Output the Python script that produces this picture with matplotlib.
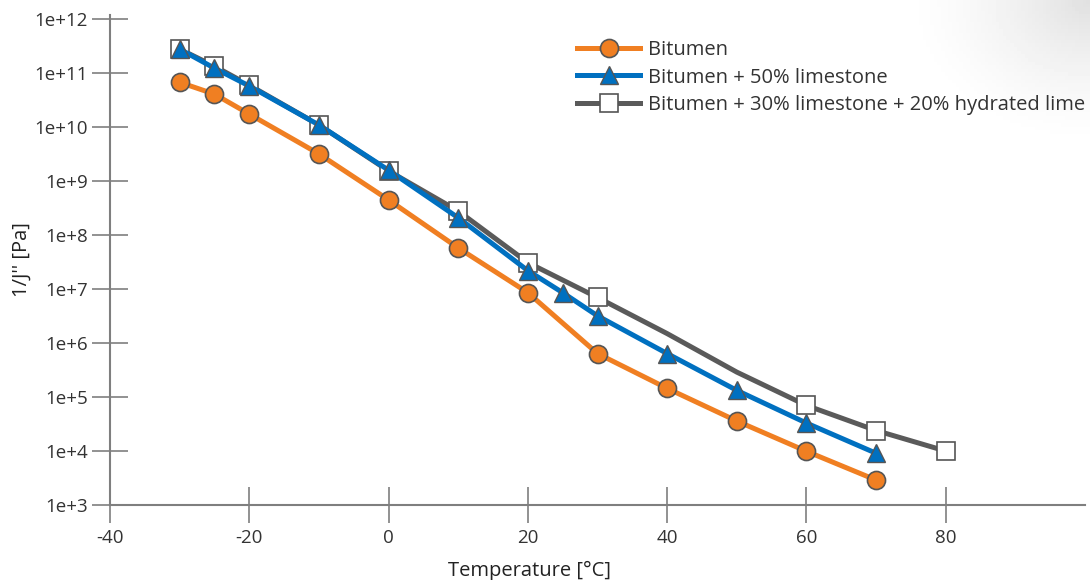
import numpy as np
import matplotlib.pyplot as plt
from matplotlib.ticker import FixedLocator, FuncFormatter

plt.rcParams['font.family'] = ['Open Sans', 'DejaVu Sans']
plt.rcParams['axes.unicode_minus'] = False

# data
temp_bit = [-30, -25, -20, -10, 0, 10, 20, 30, 40, 50, 60, 70]
bitumen = [6.8e10, 4.1e10, 1.75e10, 3.2e9, 4.5e8, 5.8e7, 8.6e6, 6.4e5, 1.45e5, 3.6e4, 9.9e3, 2.9e3]

temp_ls = [-30, -25, -20, -10, 0, 10, 20, 25, 30, 40, 50, 60, 70]
limestone = [2.8e11, 1.24e11, 5.8e10, 1.1e10, 1.6e9, 2.1e8, 2.2e7, 8.6e6, 3.2e6, 6.4e5, 1.33e5, 3.3e4, 9.1e3]

temp_hl = [-30, -25, -20, -10, 0, 10, 20, 30, 40, 50, 60, 70, 80]
hydrated = [2.8e11, 1.35e11, 6.0e10, 1.1e10, 1.55e9, 2.8e8, 3.1e7, 7.0e6, 1.5e6, 2.9e5, 7.0e4, 2.4e4, 1.0e4]
hl_marked = [0, 1, 2, 3, 4, 5, 6, 7, 10, 11, 12]

labels = ["Bitumen", "Bitumen + 50% limestone", "Bitumen + 30% limestone + 20% hydrated lime"]
x_ticks = [-40, -20, 0, 20, 40, 60, 80]
y_ticks = [1e3, 1e4, 1e5, 1e6, 1e7, 1e8, 1e9, 1e10, 1e11, 1e12]

orange = "#F07F22"
blue = "#0070C0"
grey = "#5A5A5A"
edge = "#555555"
axcol = "#7F7F7F"

fig = plt.figure(figsize=(10.9, 5.8), dpi=100)

# soft shading in the top right corner
bg = fig.add_axes([0, 0, 1, 1], zorder=-1)
gx, gy = np.meshgrid(np.linspace(0, 1090, 300), np.linspace(0, 580, 160))
d = np.sqrt(((gx - 1090) / 190) ** 2 + ((gy - 0) / 150) ** 2)
shade = np.clip(1 - d, 0, 1) ** 1.5 * 0.12
bg.imshow(1 - shade, cmap="gray", vmin=0, vmax=1, extent=[0, 1090, 580, 0], aspect="auto")
bg.axis("off")

ax = fig.add_axes([110 / 1090, 1 - 505 / 580, 975 / 1090, 490 / 580])
ax.patch.set_alpha(0)

l2, = ax.plot(temp_hl, hydrated, color=grey, lw=3.6, marker="s", markevery=hl_marked,
              ms=13, mfc="white", mec=edge, mew=1.2, zorder=2, label=labels[2])
l1, = ax.plot(temp_ls, limestone, color=blue, lw=3.6, marker="^", ms=13,
              mfc=blue, mec=edge, mew=1.0, zorder=3, label=labels[1])
l0, = ax.plot(temp_bit, bitumen, color=orange, lw=3.6, marker="o", ms=13,
              mfc=orange, mec=edge, mew=1.2, zorder=4, label=labels[0])

ax.set_yscale("log")
ax.set_xlim(-40, 100)
ax.set_ylim(1e3, 1.2e12)
ax.yaxis.set_major_locator(FixedLocator(y_ticks))
ax.yaxis.set_minor_locator(FixedLocator([]))
ax.yaxis.set_major_formatter(FuncFormatter(lambda v, p: "1e+%d" % round(np.log10(v))))
ax.set_xticks(x_ticks)

for s in ["top", "right"]:
    ax.spines[s].set_visible(False)
for s in ["left", "bottom"]:
    ax.spines[s].set_color(axcol)
    ax.spines[s].set_linewidth(1.5)

ax.tick_params(axis="both", direction="inout", length=26, width=1.2, color=axcol,
               labelsize=13.5, labelcolor="#333333")
ax.tick_params(axis="y", pad=3)
ax.tick_params(axis="x", pad=4)

ax.set_xlabel("Temperature [°C]", fontsize=14.5, color="#222222")
ax.xaxis.set_label_coords(0.43, -0.115)
ax.set_ylabel("1/J'' [Pa]", fontsize=14.5, color="#222222")
ax.yaxis.set_label_coords(-0.08, 0.5)

leg = ax.legend(handles=[l0, l1, l2], loc="upper left", bbox_to_anchor=(0.465, 0.978),
                frameon=False, fontsize=14.5, handlelength=3.1, labelspacing=0.38,
                handletextpad=0.4, borderpad=0.2)
for t in leg.get_texts():
    t.set_color("#333333")

fig.savefig("out.png", dpi=100)
